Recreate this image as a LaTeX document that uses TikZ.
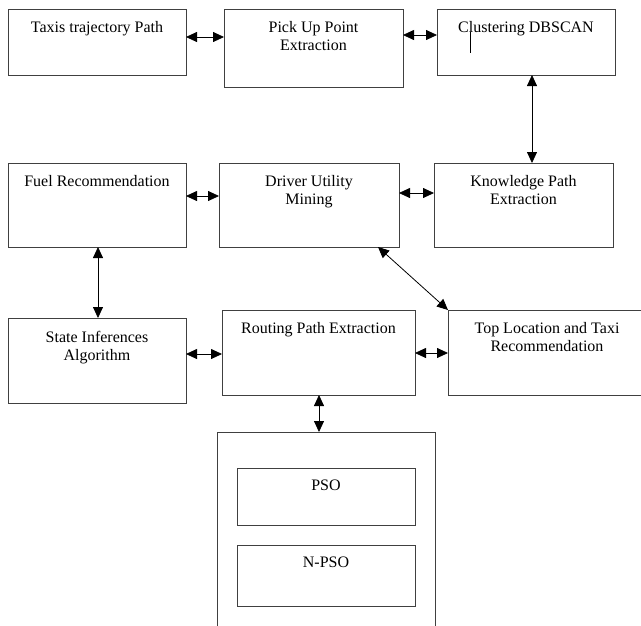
\documentclass[tikz,border=0pt]{standalone}
\usepackage{fontspec}
\setmainfont{Liberation Serif}
\usetikzlibrary{arrows.meta}
\begin{document}
\begin{tikzpicture}[x=1pt,y=-1pt,
  box/.style={draw=black!75, line width=0.9pt, inner sep=0pt, outer sep=0pt, anchor=north west},
  txt/.style={anchor=north, inner sep=0pt, align=center, font=\fontsize{16}{18.5}\selectfont},
  link/.style={line width=0.8pt, {Triangle[length=11pt,width=10pt]}-{Triangle[length=11pt,width=10pt]}}
]
\useasboundingbox (0,0) rectangle (641,625);
\clip (0,0) rectangle (641,625);

% row 1
\node[box, minimum width=178pt, minimum height=66pt] (taxi)  at (8,9)   {};
\node[box, minimum width=179pt, minimum height=78pt] (pick)  at (224,9) {};
\node[box, minimum width=178pt, minimum height=66pt] (clust) at (437,9) {};
% row 2
\node[box, minimum width=178pt, minimum height=84pt] (fuel)   at (8,163)   {};
\node[box, minimum width=180pt, minimum height=84pt] (driver) at (219,163) {};
\node[box, minimum width=179pt, minimum height=84pt] (know)   at (434,163) {};
% row 3
\node[box, minimum width=178pt, minimum height=85pt] (state)  at (8,318)   {};
\node[box, minimum width=193pt, minimum height=85pt] (route)  at (222,310) {};
\node[box, minimum width=195pt, minimum height=85pt] (toploc) at (448,310) {};
% optimiser group
\node[box, minimum width=218pt, minimum height=200pt] (group) at (217,432) {};
\node[box, minimum width=178pt, minimum height=57pt]  (pso)   at (237,468) {};
\node[box, minimum width=178pt, minimum height=61pt]  (npso)  at (237,545) {};

% labels
\node[txt] (taxiT)   at (97,21)    {Taxis trajectory Path};
\node[txt] (pickT)   at (313.5,21) {Pick Up Point\\Extraction};
\node[txt] (clustT)  at (526,21)   {Clustering DBSCAN};
\node[txt] (fuelT)   at (97,175)   {Fuel Recommendation};
\node[txt] (driverT) at (309,175)  {Driver Utility\\Mining};
\node[txt] (knowT)   at (523.5,175){Knowledge Path\\Extraction};
\node[txt] (stateT)  at (97,331)   {State Inferences\\Algorithm};
\node[txt] (routeT)  at (318.5,322){Routing Path Extraction};
\node[txt] (toplocT) at (547,322)  {Top Location and Taxi\\Recommendation};
\node[txt] (psoT)    at (326,480)  {PSO};
\node[txt] (npsoT)   at (326,557)  {N-PSO};

% text cursor mark inside the clustering box
\coordinate (curA) at (470,32);
\coordinate (curB) at (470,53);
\draw[line width=0.7pt] (curA) -- (curB);

% connectors
\draw[link] (taxi.east |- 0,37)    -- (pick.west |- 0,37);
\draw[link] (pick.east |- 0,35)    -- (clust.west |- 0,35);
\draw[link] (clust.south -| 532,0) -- (know.north -| 532,0);
\draw[link] (fuel.east |- 0,196)   -- (driver.west |- 0,196);
\draw[link] (driver.east |- 0,193) -- (know.west |- 0,193);
\draw[link] (fuel.south -| 98,0)   -- (state.north -| 98,0);
\draw[link] (driver.south -| 378,0) -- (toploc.north west);
\draw[link] (state.east |- 0,354)  -- (route.west |- 0,354);
\draw[link] (route.east |- 0,353)  -- (toploc.west |- 0,353);
\draw[link] (route.south -| 319,0) -- (group.north -| 319,0);
\end{tikzpicture}
\end{document}
